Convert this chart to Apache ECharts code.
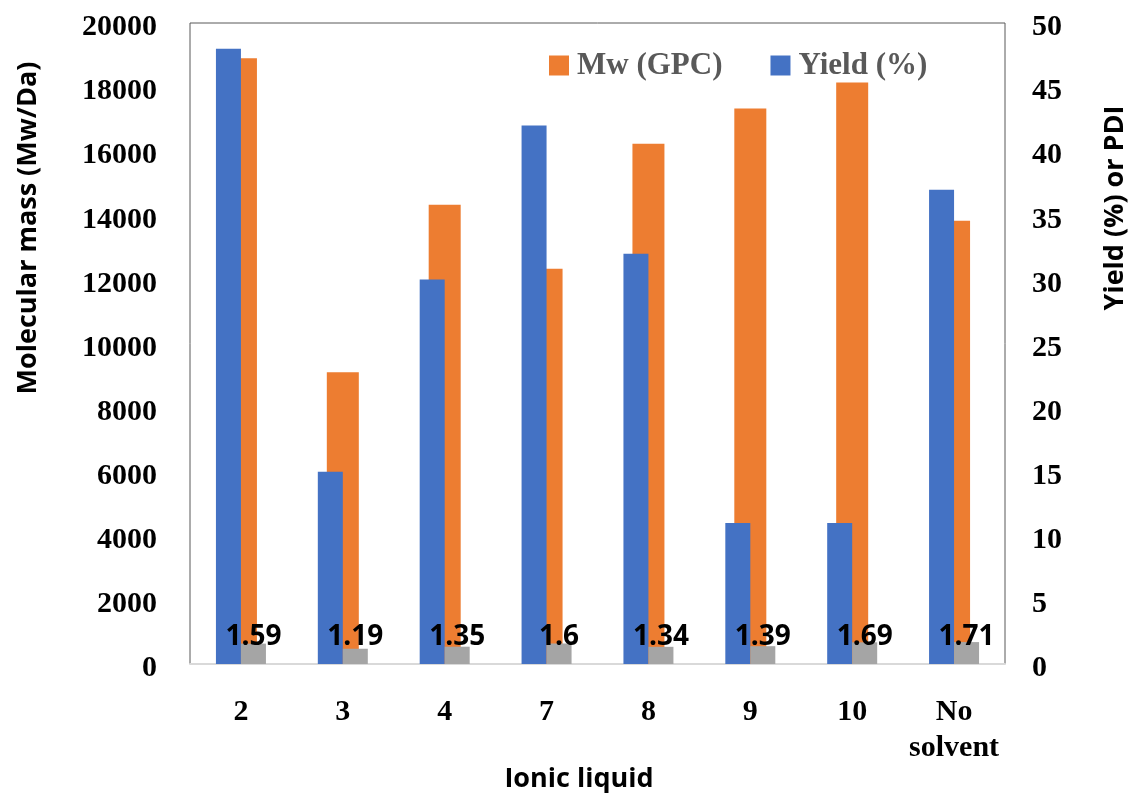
<!DOCTYPE html>
<html>
<head>
<meta charset="utf-8">
<title>Ionic liquid: molecular mass, yield and PDI</title>
<script src="https://cdn.jsdelivr.net/npm/echarts@6/dist/echarts.min.js"></script>
<style>
  html, body { margin: 0; padding: 0; background: #ffffff; }
  #chart { width: 1130px; height: 795px; }
</style>
</head>
<body>
<div id="chart"></div>
<script>
// Ionic liquids tested, plus the solvent-free run
const categories = ['2', '3', '4', '7', '8', '9', '10', 'No\nsolvent'];
// Weight-average molecular mass from GPC (Da)
const mwValues = [18900, 9100, 14330, 12330, 16230, 17330, 18140, 13830];
// Isolated yield (%)
const yieldValues = [48, 15, 30, 42, 32, 11, 11, 37];
// Polydispersity index
const pdiValues = [1.59, 1.19, 1.35, 1.6, 1.34, 1.39, 1.69, 1.71];
// Axis ranges
const leftAxisMax = 20000, leftAxisStep = 2000;
const rightAxisMax = 50, rightAxisStep = 5;

const serifBold = { fontFamily: 'Liberation Serif', fontWeight: 'bold', color: '#000000' };
const sansBold = 'bold 27px "Open Sans"';

// Value-axis tick text sits slightly below its tick
const tickRich = {
  t: { fontFamily: 'Liberation Serif', fontWeight: 'bold', fontSize: 30, color: '#000000', padding: [9, 0, 0, 0] }
};
const tickFormatter = v => '{t|' + v + '}';

const chart = echarts.init(document.getElementById('chart'), null, { renderer: 'canvas' });

chart.setOption({
  animation: false,
  backgroundColor: '#ffffff',
  grid: {
    left: 190, right: 125, top: 23, bottom: 131,
    show: true, borderColor: '#595959', borderWidth: 1, backgroundColor: 'transparent'
  },
  legend: {
    data: ['Mw (GPC)', 'Yield (%)'],
    left: 549, top: 50, padding: 0,
    icon: 'rect', itemWidth: 20, itemHeight: 20, itemGap: 48,
    textStyle: { fontFamily: 'Liberation Serif', fontWeight: 'bold', fontSize: 31, color: '#595959', padding: [0, 0, 0, 3] }
  },
  xAxis: [
    {
      type: 'category', data: categories, gridIndex: 0,
      axisLine: { show: true, lineStyle: { color: '#d9d9d9', width: 2 } },
      axisTick: { show: false },
      axisLabel: Object.assign({ fontSize: 30, margin: 30, lineHeight: 36, interval: 0 }, serifBold)
    },
    {
      type: 'category', data: categories, gridIndex: 0, show: false
    }
  ],
  yAxis: [
    {
      type: 'value', position: 'left', min: 0, max: leftAxisMax, interval: leftAxisStep,
      axisLine: { show: false }, axisTick: { show: false }, splitLine: { show: false },
      axisLabel: { margin: 33, formatter: tickFormatter, rich: tickRich }
    },
    {
      type: 'value', position: 'right', min: 0, max: rightAxisMax, interval: rightAxisStep,
      axisLine: { show: false }, axisTick: { show: false }, splitLine: { show: false },
      axisLabel: { margin: 27, formatter: tickFormatter, rich: tickRich }
    }
  ],
  series: [
    {
      name: 'Mw (GPC)', type: 'bar', xAxisIndex: 1, yAxisIndex: 0,
      barWidth: 32, data: mwValues, z: 1,
      itemStyle: { color: '#ED7D31' }
    },
    {
      name: 'Yield (%)', type: 'bar', xAxisIndex: 0, yAxisIndex: 1,
      barWidth: 25, barGap: 0, data: yieldValues, z: 2,
      itemStyle: { color: '#4472C4' }
    },
    {
      name: 'PDI', type: 'bar', xAxisIndex: 0, yAxisIndex: 1,
      barWidth: 25, barGap: 0, data: pdiValues, z: 3,
      itemStyle: { color: '#A5A5A5' },
      label: {
        show: true, position: 'insideBottom', distance: 13,
        fontFamily: 'Open Sans', fontWeight: 'bold', fontSize: 28, color: '#000000'
      }
    }
  ],
  graphic: [
    {
      type: 'text', x: 28, y: 228, rotation: Math.PI / 2, z: 10,
      style: { text: 'Molecular mass (Mw/Da)', font: sansBold, fill: '#000000', align: 'center', verticalAlign: 'middle' }
    },
    {
      type: 'text', x: 1115, y: 208, rotation: Math.PI / 2, z: 10,
      style: { text: 'Yield (%) or PDI', font: sansBold, fill: '#000000', align: 'center', verticalAlign: 'middle' }
    },
    {
      type: 'text', x: 579, y: 779, z: 10,
      style: { text: 'Ionic liquid', font: sansBold, fill: '#000000', align: 'center', verticalAlign: 'middle' }
    }
  ]
});
</script>
</body>
</html>
